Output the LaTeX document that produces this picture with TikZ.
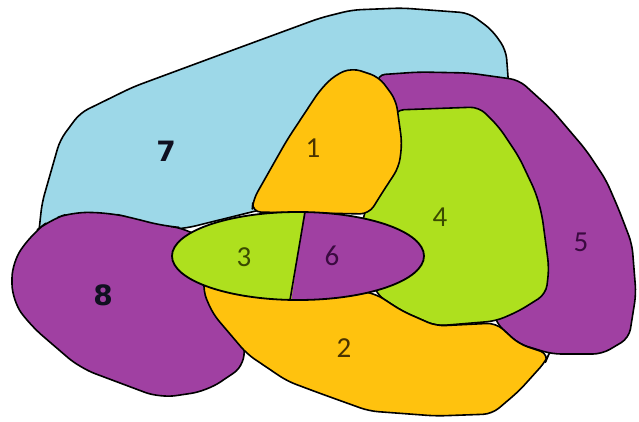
\documentclass[tikz,border=0pt]{standalone}
\usepackage{fontspec}
\setmainfont{Carlito}
\newfontfamily\boldlab{DejaVu Sans}
\definecolor{cblue}{HTML}{9DD8E8}
\definecolor{corange}{HTML}{FFC20E}
\definecolor{cgreen}{HTML}{AEE01E}
\definecolor{cpurple}{HTML}{A040A2}
\definecolor{tbrown}{HTML}{4A3300}
\definecolor{tgreen}{HTML}{3A4A00}
\definecolor{tpurple}{HTML}{3A0A40}
\definecolor{tdark}{HTML}{101020}
\tikzset{
  region/.style={draw=black, line width=1.6pt, line join=round, rounded corners=9pt},
  lab/.style={font=\fontsize{29}{29}\selectfont, inner sep=0pt},
  blab/.style={font=\boldlab\bfseries\fontsize{28}{28}\selectfont, inner sep=0pt, text=tdark}
}
\begin{document}
\begin{tikzpicture}[x=1pt,y=-1pt]
\useasboundingbox (0,0) rectangle (639,422);
% region 7
\path[region, fill=cblue] (38,240) -- (42,203) -- (50,175) -- (60,140) -- (80,113) -- (133,87) -- (233,50) -- (320,18) -- (352,10) -- (402,8) -- (469,13) -- (492,30) -- (506,50) -- (509,90) -- (380,85) -- (300,200) -- (187,228) -- cycle;
% region 5
\path[region, fill=cpurple] (376,75) -- (419,72) -- (469,73) -- (519,80) -- (552,110) -- (586,150) -- (606,180) -- (619,210) -- (632,244) -- (636,294) -- (629,338) -- (602,354) -- (552,354) -- (519,344) -- (496,323) -- (480,250) -- (400,150) -- cycle;
% region 4
\path[region, fill=cgreen] (395,110) -- (479,107) -- (499,127) -- (519,157) -- (536,193) -- (542,215) -- (549,268) -- (546,294) -- (519,311) -- (496,321) -- (436,326) -- (402,311) -- (376,294) -- (360,230) -- (380,160) -- cycle;
% region 1
\path[region, fill=corange] (252,212) -- (253,200) -- (287,140) -- (320,90) -- (335,75) -- (352,68) -- (379,77) -- (396,100) -- (402,143) -- (399,167) -- (382,193) -- (369,214) -- cycle;
% region 8
\path[draw=black, line width=1.6pt, line join=round, rounded corners=16pt, fill=cpurple] (33,233) -- (50,220) -- (73,212) -- (110,213) -- (133,218) -- (163,226) -- (187,228) -- (230,260) -- (240,330) -- (247,364) -- (207,391) -- (160,398) -- (80,368) -- (30,325) -- (12,300) -- (12,262) -- cycle;
% region 2
\path[region, fill=corange] (205,275) -- (203,291) -- (213,314) -- (247,354) -- (287,381) -- (319,393) -- (369,411) -- (436,416) -- (492,414) -- (519,391) -- (546,361) -- (549,354) -- (519,344) -- (496,323) -- (436,326) -- (402,311) -- (376,294) -- (300,280) -- cycle;
% ellipse 3 / 6
\fill[cgreen] (298,256) ellipse [x radius=126, y radius=44];
\begin{scope}
  \clip (298,256) ellipse [x radius=126, y radius=44];
  \fill[cpurple] (305,205) -- (290,310) -- (440,310) -- (440,205) -- cycle;
\end{scope}
\coordinate (dtop) at (305,212);
\coordinate (dbot) at (290,300);
\draw[line width=1.6pt] (dtop) -- (dbot);
\draw[line width=1.8pt] (298,256) ellipse [x radius=126, y radius=44];
% labels
\node[blab] (l7) at (166,151) {7};
\node[blab] (l8) at (103,295) {8};
\node[lab, text=tbrown] (l1) at (313,148) {1};
\node[lab, text=tbrown] (l2) at (344,348) {2};
\node[lab, text=tgreen] (l3) at (244,257) {3};
\node[lab, text=tgreen] (l4) at (440,217) {4};
\node[lab, text=tpurple] (l5) at (581,242) {5};
\node[lab, text=tpurple] (l6) at (332,256) {6};
\end{tikzpicture}
\end{document}
